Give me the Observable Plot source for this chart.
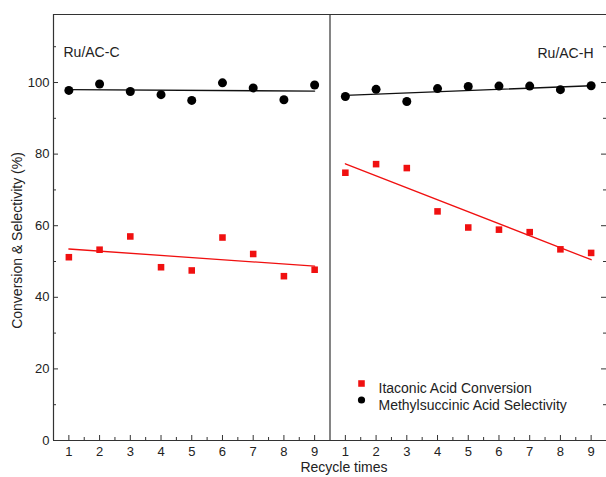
<!DOCTYPE html>
<html>
<head>
<meta charset="utf-8">
<script src="https://cdn.jsdelivr.net/npm/d3@7"></script>
<script src="https://cdn.jsdelivr.net/npm/@observablehq/plot@0.6"></script>
<style>
  html, body { margin: 0; padding: 0; background: #fff; }
  #chart svg { display: block; }
</style>
</head>
<body>
<div id="chart"></div>
<script>
// ---- data ----
const cycles = [1, 2, 3, 4, 5, 6, 7, 8, 9];
const panels = ["Ru/AC-C", "Ru/AC-H"];
const convC = [51.2, 53.3, 57.0, 48.4, 47.5, 56.7, 52.1, 45.9, 47.7];
const selC  = [97.8, 99.6, 97.5, 96.6, 95.0, 99.9, 98.5, 95.2, 99.3];
const convH = [74.8, 77.2, 76.1, 64.0, 59.5, 58.9, 58.2, 53.4, 52.4];
const selH  = [96.1, 98.1, 94.7, 98.3, 98.9, 99.0, 99.0, 98.0, 99.1];
// linear-fit line values at cycle 1 and cycle 9
const fitConvC = [53.5, 48.7];
const fitSelC  = [98.0, 97.6];
const fitConvH = [77.3, 50.5];
const fitSelH  = [96.4, 99.1];
const seriesNames = ["Itaconic Acid Conversion", "Methylsuccinic Acid Selectivity"];
const yMajor = [0, 20, 40, 60, 80, 100];
const yMinor = [10, 30, 50, 70, 90, 110];

// ---- build tables ----
const offset = {"Ru/AC-C": 0, "Ru/AC-H": 9};
const conv = [], sel = [];
cycles.forEach((c, i) => {
  conv.push({x: c + offset["Ru/AC-C"], y: convC[i]});
  conv.push({x: c + offset["Ru/AC-H"], y: convH[i]});
  sel.push({x: c + offset["Ru/AC-C"], y: selC[i]});
  sel.push({x: c + offset["Ru/AC-H"], y: selH[i]});
});
const fits = [];
const fitDefs = [
  ["Ru/AC-C", "conv", fitConvC], ["Ru/AC-C", "sel", fitSelC],
  ["Ru/AC-H", "conv", fitConvH], ["Ru/AC-H", "sel", fitSelH]
];
for (const [p, s, v] of fitDefs) {
  fits.push({z: p + s, s, x: 1 + offset[p], y: v[0]});
  fits.push({z: p + s, s, x: 9 + offset[p], y: v[1]});
}
const xMajor = [], xMinor = [];
for (const p of panels) {
  cycles.forEach(c => xMajor.push(c + offset[p]));
  cycles.slice(0, 8).forEach(c => xMinor.push(c + 0.5 + offset[p]));
}

const RED = "#f01010";
const AX = "#333";
const W = 606, H = 477, ML = 53, MR = 0, MT = 14, MB = 37;
const fw = W - ML - MR, fh = H - MT - MB;

const chart = Plot.plot({
  width: W, height: H,
  marginLeft: ML, marginRight: MR, marginTop: MT, marginBottom: MB,
  style: {fontFamily: "Arial, 'Liberation Sans', sans-serif", fontSize: "13px", color: "#222", background: "#fff"},
  x: {domain: [0.5, 18.5], axis: null},
  y: {domain: [0, 119], axis: null},
  marks: [
    // tick labels
    Plot.axisX({ticks: xMajor, tickSize: 0, tickPadding: 6, tickFormat: d => d > 9 ? d - 9 : d, label: null, fontSize: 13}),
    Plot.axisY({ticks: yMajor, tickSize: 0, tickPadding: 4, label: null, fontSize: 13}),
    // inward ticks
    Plot.tickX(xMajor, {x: d => d, insetTop: fh - 5, stroke: AX, strokeWidth: 1}),
    Plot.tickX(xMinor, {x: d => d, insetTop: fh - 3, stroke: AX, strokeWidth: 1}),
    Plot.tickY(yMajor, {y: d => d, insetRight: fw - 5, stroke: AX, strokeWidth: 1}),
    Plot.tickY(yMinor, {y: d => d, insetRight: fw - 3, stroke: AX, strokeWidth: 1}),
    Plot.tickY(yMajor, {y: d => d, insetLeft: fw - 5, stroke: AX, strokeWidth: 1}),
    Plot.tickY(yMinor, {y: d => d, insetLeft: fw - 3, stroke: AX, strokeWidth: 1}),
    // frame and panel divider
    Plot.ruleX([0.5, 9.5], {stroke: AX, strokeWidth: 1.2}),
    Plot.ruleY([0, 119], {stroke: AX, strokeWidth: 1.2}),
    // fit lines
    Plot.line(fits, {x: "x", y: "y", z: "z", stroke: d => d.s === "conv" ? RED : "#111", strokeWidth: 1.3}),
    // points
    Plot.dot(conv, {x: "x", y: "y", symbol: "square", r: 3.7, fill: RED, stroke: "none"}),
    Plot.dot(sel, {x: "x", y: "y", symbol: "circle", r: 4.5, fill: "#000", stroke: "none"}),
    // panel labels
    Plot.text([panels[0]], {frameAnchor: "top-left", dx: 10, dy: 33, textAnchor: "start", fontSize: 14, fill: "#222"}),
    Plot.text([panels[1]], {frameAnchor: "top-right", dx: -13, dy: 34, textAnchor: "end", fontSize: 14, fill: "#222"}),
    // axis titles
    Plot.text(["Recycle times"], {frameAnchor: "bottom", textAnchor: "middle", dx: 14, dy: 31, fontSize: 14, fill: "#222"}),
    Plot.text(["Conversion & Selectivity (%)"], {frameAnchor: "left", textAnchor: "middle", rotate: -90, dx: -36, dy: 13, fontSize: 14, fill: "#222"}),
    // legend
    Plot.dot([seriesNames[0]], {frameAnchor: "top-left", dx: 308, dy: 369, symbol: "square", r: 3.7, fill: RED}),
    Plot.dot([seriesNames[1]], {frameAnchor: "top-left", dx: 308, dy: 385.5, symbol: "circle", r: 3.6, fill: "#000"}),
    Plot.text([seriesNames[0]], {frameAnchor: "top-left", dx: 325, dy: 369, textAnchor: "start", fontSize: 14, fill: "#222"}),
    Plot.text([seriesNames[1]], {frameAnchor: "top-left", dx: 325, dy: 385.5, textAnchor: "start", fontSize: 14, fill: "#222"})
  ]
});
document.getElementById("chart").appendChild(chart);
</script>
</body>
</html>
